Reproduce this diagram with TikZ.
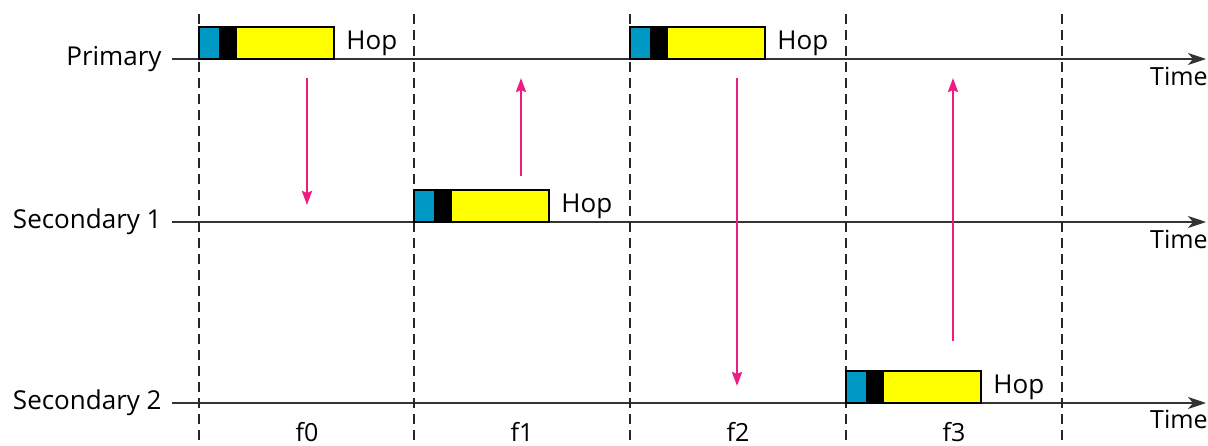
\documentclass[tikz,border=0pt]{standalone}
\usepackage{fontspec}
\setmainfont{Open Sans}
\usetikzlibrary{arrows.meta,positioning}
\definecolor{hopblue}{HTML}{0099C6}
\definecolor{hopyellow}{HTML}{FFFF00}
\definecolor{hoppink}{HTML}{EC1C82}
\definecolor{axis}{HTML}{333333}
\tikzset{
  seg/.style={draw=black,line width=0.8pt,minimum height=16pt,inner sep=0pt,outer sep=0pt},
  lane/.style={font=\fontsize{13}{15}\selectfont,inner sep=2pt},
  hoplabel/.style={font=\fontsize{13}{15}\selectfont,inner sep=2pt},
  timelabel/.style={font=\fontsize{12.5}{14}\selectfont,inner sep=0pt,anchor=north east},
  freq/.style={font=\fontsize{12.5}{14}\selectfont,inner sep=0pt},
  timeline/.style={draw=axis,line width=1pt,-{Stealth[length=9pt,width=6pt,inset=2.5pt]}},
  slot/.style={draw=black!85,line width=1pt,dash pattern=on 5pt off 3pt},
  hopflow/.style={draw=hoppink,line width=1.3pt,-{Stealth[length=7pt,width=5pt,inset=1pt]}}
}
% one hop: blue + black + yellow burst, then the label
\newcommand{\hopbox}[3]{%
  \node[seg,fill=hopblue,minimum width=10.5pt,anchor=south west] (#1a) at (#2,#3) {};
  \node[seg,fill=black,minimum width=8pt,right=0pt of #1a] (#1b) {};
  \node[seg,fill=hopyellow,minimum width=49pt,right=0pt of #1b] (#1c) {};
  \node[hoplabel,right=4pt of #1c] (#1h) {Hop};
}
\begin{document}
\begin{tikzpicture}[x=0.5pt,y=-0.5pt]
\useasboundingbox (0,0) rectangle (1208,445);

% time axes
\coordinate (ps) at (172,59);   \coordinate (pe) at (1206,59);
\coordinate (s1s) at (172,222); \coordinate (s1e) at (1206,222);
\coordinate (s2s) at (172,403); \coordinate (s2e) at (1206,403);
\draw[timeline] (ps) -- (pe);
\draw[timeline] (s1s) -- (s1e);
\draw[timeline] (s2s) -- (s2e);
\node[lane,left=3pt of ps] (primary) {Primary};
\node[lane,left=3pt of s1s] (sec1) {Secondary 1};
\node[lane,left=3pt of s2s] (sec2) {Secondary 2};
\node[timelabel] (tp) at (1208,67) {Time};
\node[timelabel] (ts1) at (1208,230) {Time};
\node[timelabel] (ts2) at (1208,410) {Time};

% frequency slots
\foreach \x [count=\i] in {199,414,630,846,1062}
  \draw[slot] (\x,14) -- (\x,440);
\foreach \x [count=\i from 0] in {307,522,738,954}
  \node[freq] (f\i) at (\x,432) {f\i};

% hops
\hopbox{hopA}{199}{59}
\hopbox{hopB}{414}{222}
\hopbox{hopC}{630}{59}
\hopbox{hopD}{846}{403}

% hopping direction
\coordinate (a1) at (307,78);  \coordinate (a2) at (307,205);
\coordinate (b1) at (521,176); \coordinate (b2) at (521,78);
\coordinate (c1) at (737,78);  \coordinate (c2) at (737,386);
\coordinate (d1) at (953,341); \coordinate (d2) at (953,78);
\draw[hopflow] (a1) -- (a2);
\draw[hopflow] (b1) -- (b2);
\draw[hopflow] (c1) -- (c2);
\draw[hopflow] (d1) -- (d2);
\end{tikzpicture}
\end{document}
